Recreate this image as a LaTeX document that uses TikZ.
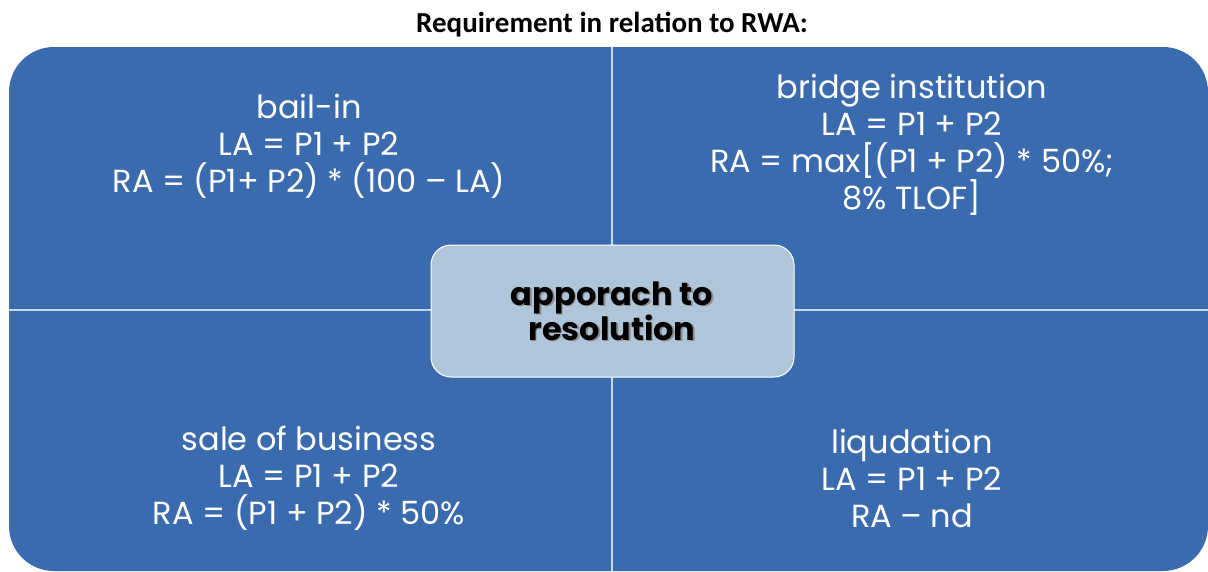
\documentclass[tikz,border=0pt]{standalone}
\usepackage{fontspec}
\setmainfont{Poppins}
\newfontfamily\titlefont{Carlito}
\usepackage{tikz}
\usetikzlibrary{positioning}
\definecolor{QuadBlue}{HTML}{3A6BAE}
\definecolor{HubBlue}{HTML}{AFC6DA}
\definecolor{SplitLine}{HTML}{C9D7EA}

\begin{document}
\begin{tikzpicture}[
      x=1pt, y=-1pt,
      quadtext/.style = {text=white, align=center, font=\fontsize{32}{37}\selectfont},
      hubtext/.style = {align=center, font=\fontsize{32}{35}\selectfont\bfseries}
    ]
    \useasboundingbox (0,0) rectangle (1208,571);
    % title
    \node (title) [font=\titlefont\bfseries\fontsize{29}{32}\selectfont] at (612,25)
      {Requirement in relation to RWA:};
    % four quadrants
    \fill [QuadBlue, rounded corners=45] (9,47) rectangle (1208,571);
    \draw [SplitLine, line width=1.5] (612,47) -- (612,571);
    \draw [SplitLine, line width=1.5] (9,310) -- (1208,310);
    \node (bailin) [quadtext] at (309,146)
      {bail-in\\LA = P1 + P2\\RA = (P1+ P2) * (100 -- LA)};
    \node (bridge) [quadtext] at (912,145)
      {bridge institution\\LA = P1 + P2\\RA = max[(P1 + P2) * 50\%;\\8\% TLOF]};
    \node (sale) [quadtext] at (309,478)
      {sale of business\\LA = P1 + P2\\RA = (P1 + P2) * 50\%};
    \node (liq) [quadtext] at (912,478)
      {liqudation\\LA = P1 + P2\\RA -- nd};
    % centre
    \draw [fill=HubBlue, draw=white, line width=1, rounded corners=20]
      (431,245) rectangle (794,377);
    \node (hubshadow) [hubtext, text=black!45] at (613.5,312.5) {apporach to\\resolution};
    \node (hub) [hubtext] at (612,311) {apporach to\\resolution};
  \end{tikzpicture}
\end{document}
